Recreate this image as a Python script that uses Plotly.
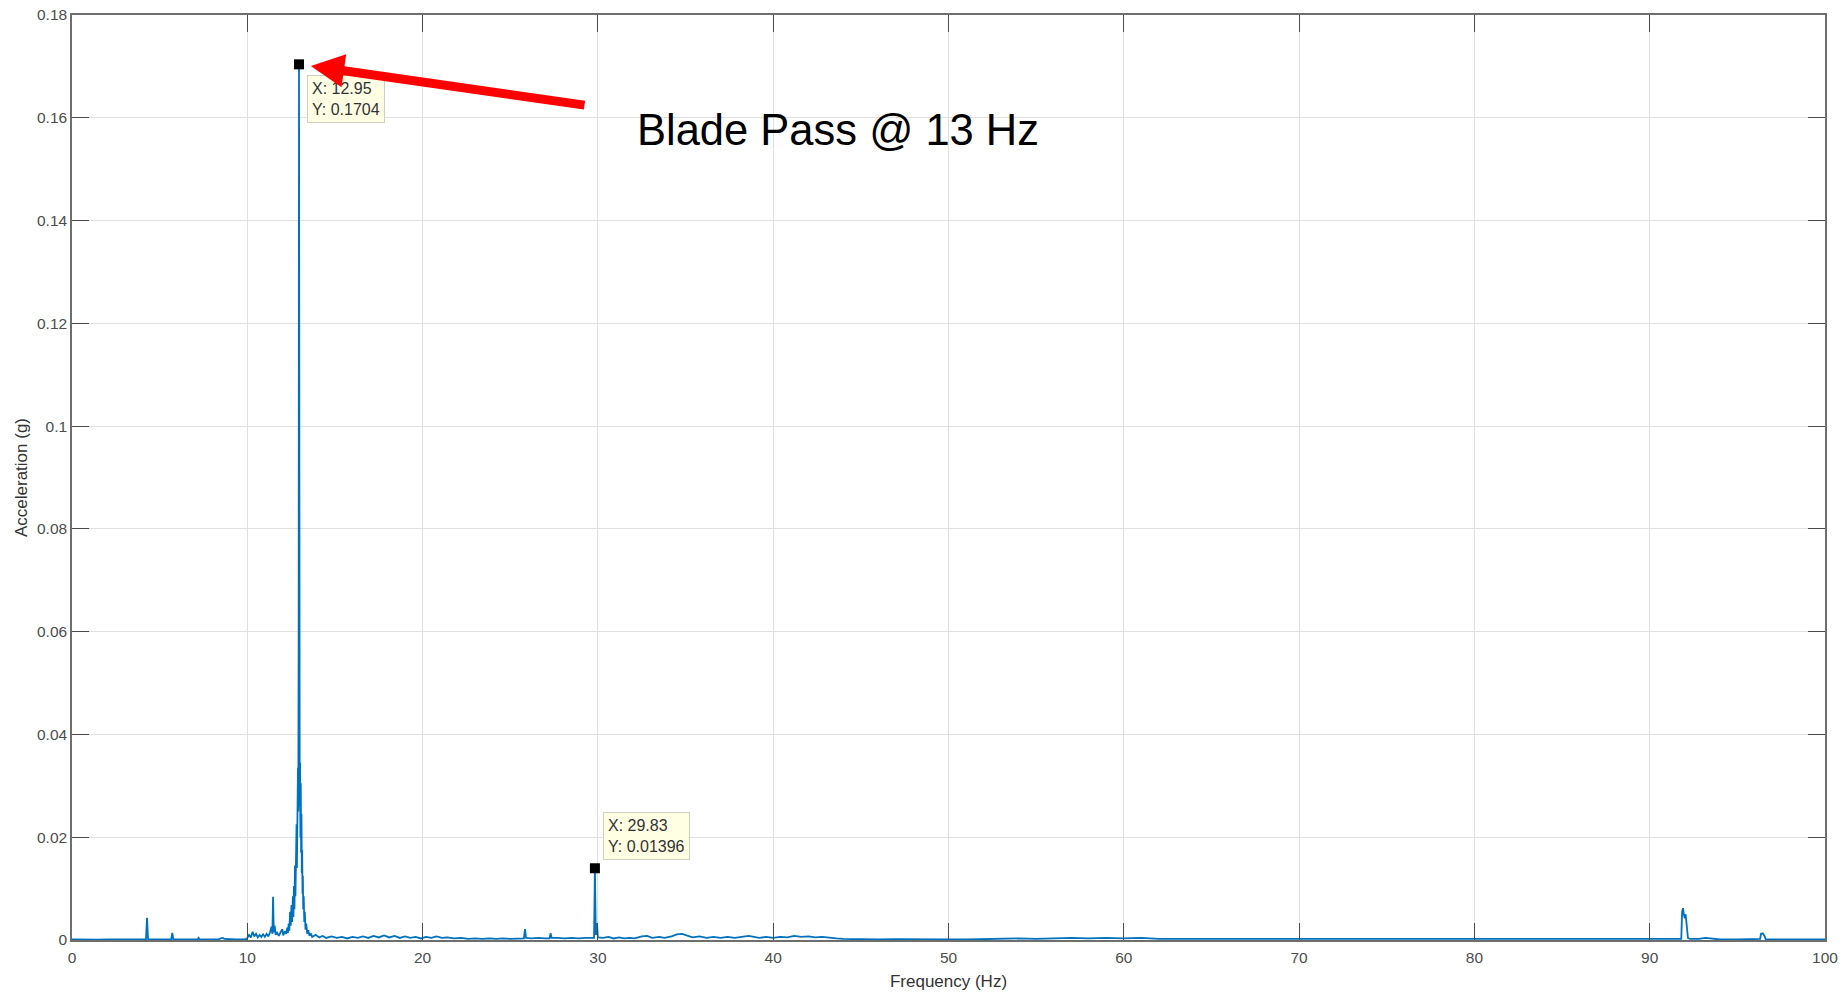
import plotly.graph_objects as go

# ---- Spectrum data (frequency in Hz, acceleration in g), by band ----
band_low_f = [0, 0.5, 1.0, 1.5, 2.0, 2.5, 3.0, 3.5, 4.0, 4.22, 4.28, 4.34, 4.6, 5.0, 5.4,
              5.66, 5.72, 5.78, 6.2, 6.6, 7.0, 7.16, 7.22, 7.28, 7.8, 8.3, 8.5, 8.6, 8.7,
              9.0, 9.4, 9.8, 9.96]
band_low_a = [0.0001, 0.00005, 0.0001, 0.00008, 0.0001, 0.00008, 0.0001, 0.00012, 0.0001,
              0.0001, 0.0043, 0.0001, 0.0001, 0.00012, 0.0001, 0.0001, 0.0014, 0.0001,
              0.0001, 0.00012, 0.0001, 0.0001, 0.0004, 0.0001, 0.0001, 0.0001, 0.0003,
              0.0004, 0.0002, 0.0001, 0.0001, 0.0001, 0.0002]

band_pre_f = [10.0, 10.1, 10.2, 10.3, 10.4, 10.5, 10.6, 10.7, 10.8, 10.9, 11.0, 11.1, 11.2,
              11.3, 11.38, 11.43, 11.47, 11.51, 11.56, 11.62, 11.7, 11.8, 11.9, 12.0, 12.05,
              12.15, 12.22, 12.28]
band_pre_a = [0.0004, 0.0010, 0.0005, 0.0016, 0.0007, 0.0012, 0.0005, 0.0010, 0.0006, 0.0011,
              0.0006, 0.0012, 0.0007, 0.0015, 0.0026, 0.0012, 0.0084, 0.0015, 0.0028, 0.0010,
              0.0014, 0.0008, 0.0015, 0.0021, 0.0009, 0.0017, 0.0012, 0.0024]

band_bp_f = [12.32, 12.36, 12.40, 12.44, 12.48, 12.52, 12.56, 12.60, 12.63, 12.66, 12.69,
             12.72, 12.745, 12.77, 12.79, 12.81, 12.83, 12.85, 12.87, 12.89, 12.91, 12.93,
             12.95, 12.97, 12.99, 13.01, 13.03, 13.05, 13.07, 13.09, 13.11, 13.13, 13.15,
             13.17, 13.19, 13.22, 13.25, 13.28, 13.32, 13.36, 13.42, 13.48, 13.55, 13.62]
band_bp_a = [0.0014, 0.0032, 0.0018, 0.0055, 0.0028, 0.0068, 0.0035, 0.0085, 0.0045, 0.0105,
             0.0060, 0.0145, 0.0085, 0.0180, 0.0110, 0.0225, 0.0140, 0.0285, 0.0180, 0.0335,
             0.0250, 0.0600, 0.1704, 0.0550, 0.0260, 0.0345, 0.0200, 0.0305, 0.0170, 0.0245,
             0.0130, 0.0175, 0.0090, 0.0125, 0.0060, 0.0085, 0.0035, 0.0055, 0.0020, 0.0032,
             0.0012, 0.0019, 0.0008, 0.0013]

band_mid_f = [13.7, 13.9, 14.1, 14.3, 14.5, 14.8, 15.1, 15.4, 15.7, 16.0, 16.3, 16.6, 16.9,
              17.2, 17.5, 17.8, 18.1, 18.4, 18.7, 19.0, 19.3, 19.6, 19.9, 20.2, 20.5, 20.8,
              21.1, 21.4, 21.8, 22.2, 22.6, 23.0, 23.4, 23.8, 24.2, 24.6, 25.0, 25.4, 25.78,
              25.84, 25.9, 26.2, 26.6, 27.0, 27.24, 27.3, 27.36, 27.7, 28.1, 28.5, 28.9, 29.3,
              29.7, 29.78, 29.83, 29.88, 29.95, 30.0]
band_mid_a = [0.0006, 0.0010, 0.0005, 0.0008, 0.0004, 0.0007, 0.0004, 0.0006, 0.0003, 0.0006,
              0.0004, 0.0007, 0.0004, 0.0008, 0.0005, 0.0009, 0.0005, 0.0008, 0.0004, 0.0007,
              0.0004, 0.0006, 0.0003, 0.0006, 0.0004, 0.0007, 0.0004, 0.0005, 0.0003, 0.0004,
              0.0002, 0.0003, 0.0002, 0.0003, 0.0002, 0.0003, 0.0002, 0.0003, 0.0003, 0.0021,
              0.0004, 0.0003, 0.0004, 0.0003, 0.0003, 0.0013, 0.0004, 0.0004, 0.0003, 0.0004,
              0.0003, 0.0004, 0.0003, 0.0004, 0.01396, 0.0010, 0.0033, 0.0005]

band_upper_f = [30.3, 30.6, 30.9, 31.2, 31.5, 31.8, 32.1, 32.5, 32.8, 33.1, 33.5, 33.8, 34.2,
                34.5, 34.8, 35.1, 35.4, 35.8, 36.2, 36.6, 37.0, 37.4, 37.8, 38.2, 38.6, 38.9,
                39.2, 39.6, 40.0, 40.4, 40.8, 41.2, 41.6, 42.0, 42.4, 42.8, 43.2, 43.6]
band_upper_a = [0.0004, 0.0006, 0.0003, 0.0005, 0.0003, 0.0004, 0.0003, 0.0007, 0.0008,
                0.0004, 0.0006, 0.0004, 0.0007, 0.0011, 0.0012, 0.0008, 0.0005, 0.0007,
                0.0004, 0.0006, 0.0004, 0.0006, 0.0004, 0.0006, 0.0008, 0.0006, 0.0004,
                0.0006, 0.0004, 0.0006, 0.0005, 0.0008, 0.0006, 0.0007, 0.0005, 0.0006,
                0.0004, 0.0003]

band_high_f = [44.0, 45.0, 46.0, 47.0, 48.0, 49.0, 50.0, 51.0, 52.0, 53.0, 54.0, 55.0, 56.0,
               57.0, 58.0, 59.0, 60.0, 61.0, 62.0, 63.0, 64.0, 65.0, 66.0, 68.0, 70.0, 72.0,
               74.0, 76.0, 78.0, 80.0, 82.0, 84.0, 86.0, 88.0, 89.0, 90.0, 91.0, 91.5, 91.8,
               91.85, 91.9, 91.95, 92.0, 92.05, 92.1, 92.18, 92.3, 92.8, 93.2, 93.4, 94.0,
               95.0, 96.0, 96.3, 96.35, 96.45, 96.55, 96.62, 97.0, 98.0, 99.0, 100.0]
band_high_a = [0.0002, 0.0001, 0.0001, 0.00015, 0.0001, 0.0001, 0.0001, 0.0001, 0.00015,
               0.0002, 0.0003, 0.0002, 0.0003, 0.0004, 0.0003, 0.0004, 0.0003, 0.0004,
               0.0002, 0.0002, 0.0002, 0.00015, 0.0001, 0.0001, 0.0001, 0.0001, 0.0001,
               0.0001, 0.0001, 0.0001, 0.0001, 0.0001, 0.0001, 0.0001, 0.0002, 0.0001,
               0.0001, 0.0002, 0.0002, 0.0055, 0.0062, 0.0050, 0.0042, 0.0050, 0.0030,
               0.0004, 0.0002, 0.0002, 0.0004, 0.0003, 0.0001, 0.0001, 0.0001, 0.0002,
               0.0012, 0.0013, 0.0008, 0.0001, 0.0001, 0.0001, 0.0001, 0.0001]

# Data-tip points
tip_f = [12.95, 29.83]
tip_a = [0.1704, 0.01396]

x_ticks = list(range(0, 101, 10))
y_ticks = [0, 0.02, 0.04, 0.06, 0.08, 0.1, 0.12, 0.14, 0.16, 0.18]
y_tick_text = ["0", "0.02", "0.04", "0.06", "0.08", "0.1", "0.12", "0.14", "0.16", "0.18"]

freq = band_low_f + band_pre_f + band_bp_f + band_mid_f + band_upper_f + band_high_f
accel = band_low_a + band_pre_a + band_bp_a + band_mid_a + band_upper_a + band_high_a

FONT = "Liberation Sans, Arial, Helvetica, sans-serif"

W, H = 1843, 994
ML, MR, MT, MB = 72, 18, 15, 54

fig = go.Figure()
fig.add_trace(go.Scatter(
    x=freq, y=accel, mode="lines",
    line=dict(color="#0072BD", width=1.8),
    hoverinfo="skip", showlegend=False,
))
fig.add_trace(go.Scatter(
    x=tip_f, y=tip_a, mode="markers",
    marker=dict(symbol="square", size=10, color="#000000"),
    hoverinfo="skip", showlegend=False,
))

# Data-tip boxes: first below-right of its point, second above-right
tip_anchor = ["top", "bottom"]
tip_shift = [-11, 8]
annotations = []
for i, (fx, ya) in enumerate(zip(tip_f, tip_a)):
    annotations.append(dict(
        x=fx, y=ya, xref="x", yref="y",
        text=f"X: {fx:g}<br>Y: {ya:g}",
        showarrow=False, xanchor="left", yanchor=tip_anchor[i],
        xshift=8, yshift=tip_shift[i], align="left",
        font=dict(family=FONT, size=16, color="#333333"),
        bgcolor="#FFFFE3", bordercolor="#D0D0C0", borderwidth=1, borderpad=4,
    ))

# Red call-out arrow pointing at the blade-pass peak
annotations.append(dict(
    x=tip_f[0], y=tip_a[0], xref="x", yref="y", text="",
    showarrow=True, ax=287, ay=41, axref="pixel", ayref="pixel",
    arrowcolor="#FF0000", arrowwidth=9, arrowhead=2, arrowsize=0.74, standoff=12,
))

# Caption, placed by pixel position within the plotting area
cap_px, cap_py = 838, 130
annotations.append(dict(
    x=(cap_px - ML) / (W - ML - MR), y=1 - (cap_py - MT) / (H - MT - MB),
    xref="paper", yref="paper", text="Blade Pass @ 13 Hz",
    showarrow=False, xanchor="center", yanchor="middle",
    font=dict(family=FONT, size=43.5, color="#000000"),
))

axis_common = dict(
    showline=True, linecolor="#6E6E6E", linewidth=1.5, mirror="ticks",
    ticks="inside", ticklen=17, tickcolor="#4A4A4A", tickwidth=1,
    showgrid=True, gridcolor="#E0E0E0", gridwidth=1, zeroline=False,
    automargin=False,
    tickfont=dict(family=FONT, size=15.5, color="#4D4D4D"),
)

fig.update_layout(
    width=W, height=H,
    margin=dict(l=ML, r=MR, t=MT, b=MB),
    paper_bgcolor="#FFFFFF", plot_bgcolor="#FFFFFF",
    xaxis=dict(range=[0, 100], tickvals=x_ticks, ticklabelstandoff=3,
               title=dict(text="Frequency (Hz)", standoff=10,
                          font=dict(family=FONT, size=17, color="#333333")),
               **axis_common),
    yaxis=dict(range=[0, 0.18], tickvals=y_ticks, ticktext=y_tick_text,
               title=dict(text="Acceleration (g)", standoff=5,
                          font=dict(family=FONT, size=17, color="#333333")),
               **axis_common),
    annotations=annotations,
)

fig.write_html("out.html")
